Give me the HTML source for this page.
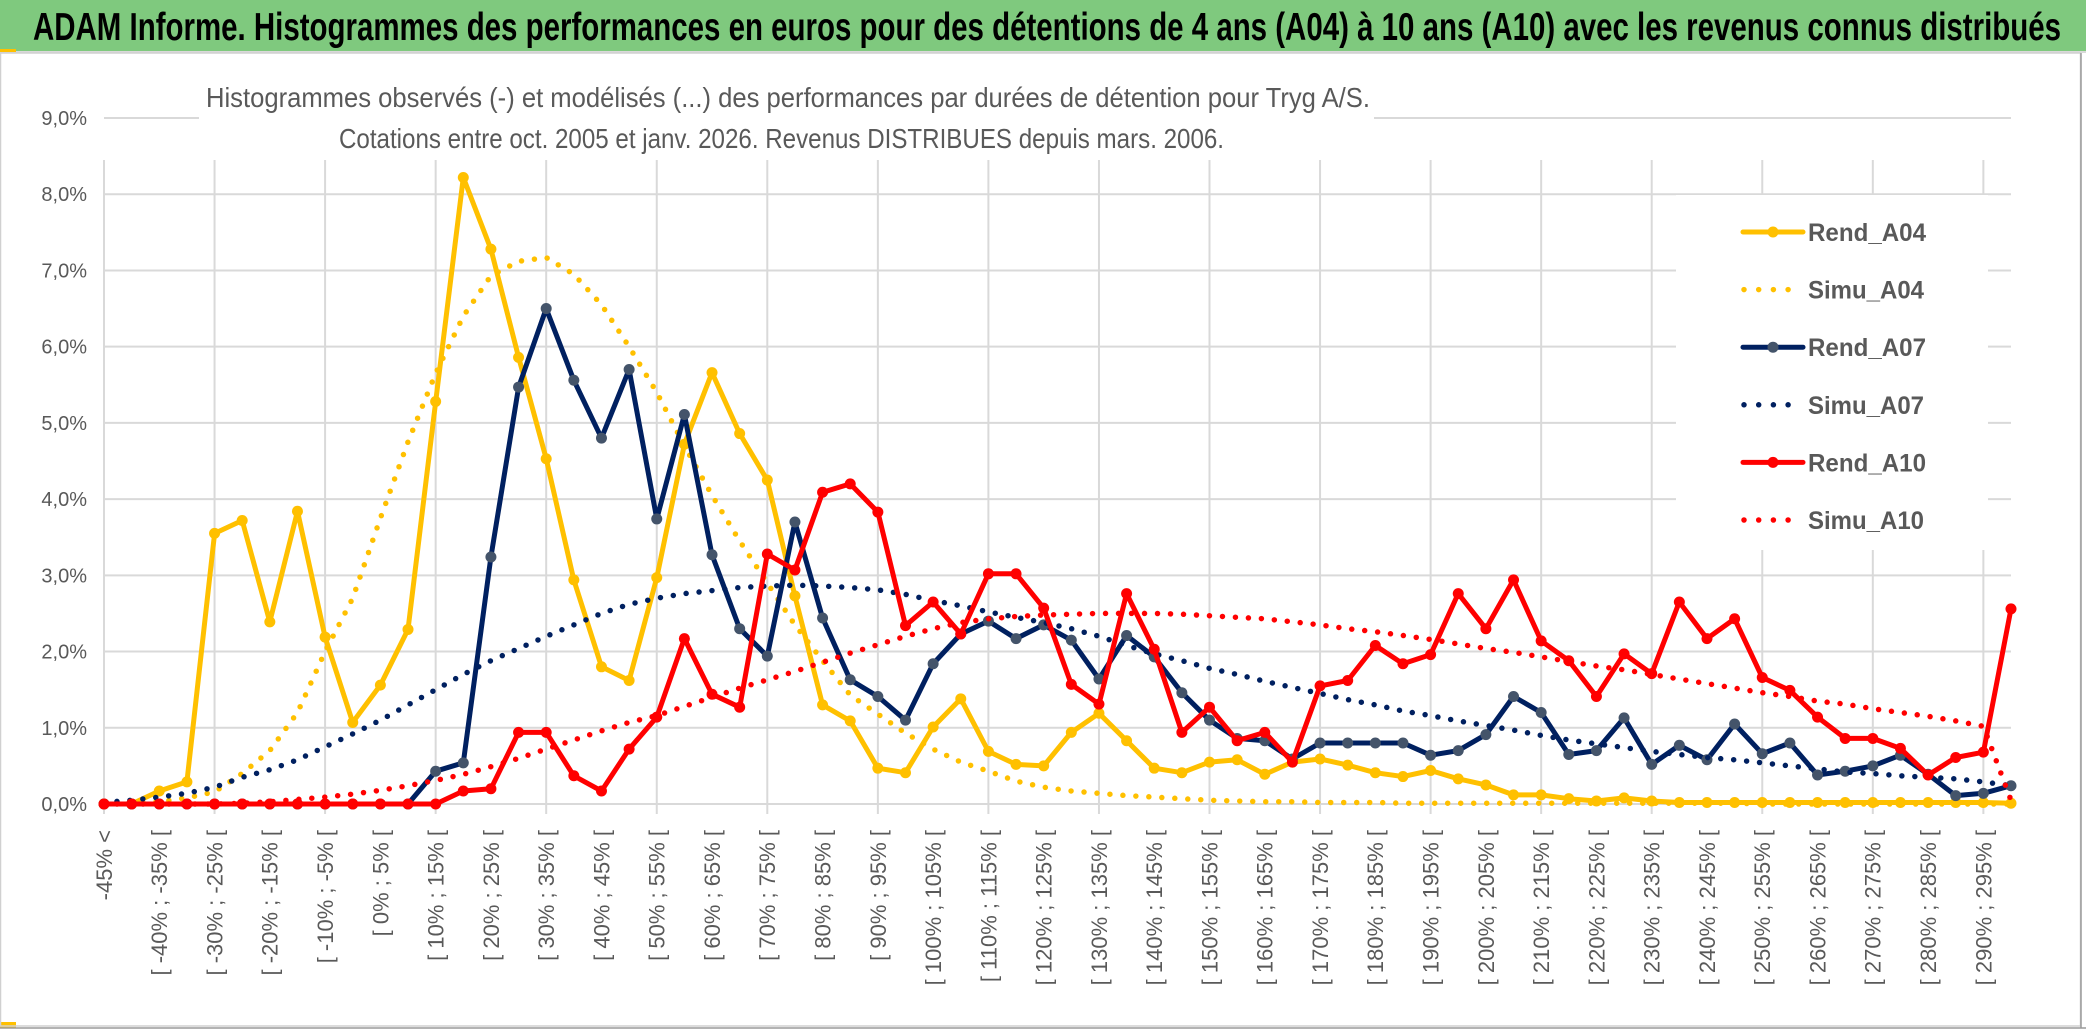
<!DOCTYPE html>
<html><head><meta charset="utf-8">
<style>
html,body{margin:0;padding:0;background:#fff;}
svg{display:block;}
</style></head>
<body>
<svg id="chart" width="2086" height="1031" viewBox="0 0 2086 1031" xmlns="http://www.w3.org/2000/svg">
  <rect x="0" y="0" width="2086" height="1031" fill="#ffffff"/>
  <rect x="0" y="0" width="2086" height="51" fill="#7fc97e"/>
  <line x1="0" y1="52" x2="2086" y2="52" stroke="#d9d9d9" stroke-width="2"/>
  <rect x="0" y="49" width="16" height="3" fill="#ffc000"/>
  <rect x="0" y="1022" width="16" height="6" fill="#ffc000"/>
  <text x="33" y="40" font-family="'Liberation Sans Narrow','Liberation Sans',sans-serif" font-weight="bold" font-size="39" fill="#000" textLength="2028" lengthAdjust="spacingAndGlyphs">ADAM Informe. Histogrammes des performances en euros pour des détentions de 4 ans (A04) à 10 ans (A10) avec les revenus connus distribués</text>
  <rect x="0.5" y="53" width="2080" height="973" fill="none" stroke="#d0d0d0" stroke-width="1.5"/>
  <line x1="0" y1="1028" x2="2086" y2="1028" stroke="#9a9a9a" stroke-width="1.5"/>
  <line x1="2081" y1="53" x2="2081" y2="1028" stroke="#9a9a9a" stroke-width="1.5"/>
  <g id="grid"></g>
  <rect x="199" y="70" width="1175" height="90" fill="#fff"/>
  <rect x="1676" y="195" width="312" height="355" fill="#fff"/>
  <text x="206" y="107" font-family="'Liberation Sans Narrow','Liberation Sans',sans-serif" font-size="28" fill="#595959" textLength="1164" lengthAdjust="spacingAndGlyphs">Histogrammes observés (-) et modélisés (...) des performances par durées de détention pour Tryg A/S.</text>
  <text x="339" y="148" font-family="'Liberation Sans Narrow','Liberation Sans',sans-serif" font-size="28" fill="#595959" textLength="885" lengthAdjust="spacingAndGlyphs">Cotations entre oct. 2005 et janv. 2026. Revenus DISTRIBUES depuis mars. 2006.</text>
  <g id="yaxis"></g>
  <g id="xaxis"></g>
  <g id="series"></g>
  <g id="legend"></g>
</svg>
<script>
const categories = ["-45% <","[ -45% ; -40% [","[ -40% ; -35% [","[ -35% ; -30% [","[ -30% ; -25% [","[ -25% ; -20% [","[ -20% ; -15% [","[ -15% ; -10% [","[ -10% ; -5% [","[ -5% ; 0% [",
"[ 0% ; 5% [","[ 5% ; 10% [","[ 10% ; 15% [","[ 15% ; 20% [","[ 20% ; 25% [","[ 25% ; 30% [","[ 30% ; 35% [","[ 35% ; 40% [","[ 40% ; 45% [","[ 45% ; 50% [",
"[ 50% ; 55% [","[ 55% ; 60% [","[ 60% ; 65% [","[ 65% ; 70% [","[ 70% ; 75% [","[ 75% ; 80% [","[ 80% ; 85% [","[ 85% ; 90% [","[ 90% ; 95% [","[ 95% ; 100% [",
"[ 100% ; 105% [","[ 105% ; 110% [","[ 110% ; 115% [","[ 115% ; 120% [","[ 120% ; 125% [","[ 125% ; 130% [","[ 130% ; 135% [","[ 135% ; 140% [","[ 140% ; 145% [","[ 145% ; 150% [",
"[ 150% ; 155% [","[ 155% ; 160% [","[ 160% ; 165% [","[ 165% ; 170% [","[ 170% ; 175% [","[ 175% ; 180% [","[ 180% ; 185% [","[ 185% ; 190% [","[ 190% ; 195% [","[ 195% ; 200% [",
"[ 200% ; 205% [","[ 205% ; 210% [","[ 210% ; 215% [","[ 215% ; 220% [","[ 220% ; 225% [","[ 225% ; 230% [","[ 230% ; 235% [","[ 235% ; 240% [","[ 240% ; 245% [","[ 245% ; 250% [",
"[ 250% ; 255% [","[ 255% ; 260% [","[ 260% ; 265% [","[ 265% ; 270% [","[ 270% ; 275% [","[ 275% ; 280% [","[ 280% ; 285% [","[ 285% ; 290% [","[ 290% ; 295% [","[ 295% ; 300% ["];
const yTicks = [0,1,2,3,4,5,6,7,8,9];
const yTickLabels = ["0,0%","1,0%","2,0%","3,0%","4,0%","5,0%","6,0%","7,0%","8,0%","9,0%"];
const rendA04 = [0,0,0.17,0.29,3.55,3.72,2.39,3.84,2.19,1.07,
1.56,2.29,5.28,8.22,7.28,5.86,4.53,2.94,1.8,1.62,
2.97,4.72,5.66,4.86,4.25,2.73,1.3,1.09,0.47,0.41,
1.01,1.38,0.69,0.52,0.5,0.94,1.19,0.83,0.47,0.41,
0.55,0.58,0.39,0.55,0.59,0.51,0.41,0.36,0.44,0.33,
0.25,0.12,0.12,0.07,0.04,0.08,0.04,0.02,0.02,0.02,
0.02,0.02,0.02,0.02,0.02,0.02,0.02,0.02,0.02,0.01];
const simuA04 = [0,0.01,0.03,0.08,0.16,0.4,0.7,1.2,2.0,2.7,
3.75,4.75,5.65,6.4,6.93,7.12,7.17,6.95,6.55,6.0,
5.4,4.7,4.05,3.45,2.9,2.35,1.88,1.43,1.18,0.93,
0.72,0.55,0.43,0.3,0.22,0.17,0.14,0.11,0.09,0.07,
0.05,0.04,0.03,0.03,0.02,0.02,0.02,0.01,0.01,0.01,
0.01,0.01,0.01,0.01,0.01,0.01,0.01,0.01,0.01,0.01,
0,0,0,0,0,0,0,0,0,0];
const rendA07 = [0,0,0,0,0,0,0,0,0,0,
0,0,0.43,0.54,3.24,5.47,6.5,5.56,4.8,5.7,
3.74,5.11,3.27,2.3,1.94,3.7,2.44,1.63,1.41,1.1,
1.84,2.23,2.4,2.17,2.35,2.15,1.64,2.21,1.93,1.46,
1.1,0.86,0.83,0.59,0.8,0.8,0.8,0.8,0.64,0.7,
0.91,1.41,1.2,0.65,0.7,1.13,0.52,0.77,0.58,1.05,
0.66,0.8,0.38,0.43,0.5,0.64,0.39,0.11,0.14,0.24];
const simuA07 = [0.02,0.05,0.09,0.14,0.22,0.35,0.45,0.58,0.75,0.92,
1.1,1.3,1.5,1.7,1.88,2.04,2.2,2.35,2.5,2.62,
2.7,2.76,2.8,2.84,2.86,2.87,2.86,2.84,2.81,2.75,
2.67,2.6,2.52,2.45,2.38,2.3,2.2,2.08,1.97,1.88,
1.78,1.7,1.61,1.53,1.45,1.37,1.3,1.22,1.16,1.09,
1.03,0.97,0.9,0.84,0.79,0.74,0.69,0.65,0.61,0.58,
0.54,0.5,0.46,0.42,0.4,0.37,0.35,0.33,0.29,0.24];
const rendA10 = [0,0,0,0,0,0,0,0,0,0,
0,0,0,0.17,0.2,0.94,0.94,0.37,0.17,0.72,
1.14,2.17,1.44,1.27,3.28,3.07,4.09,4.2,3.83,2.34,
2.65,2.23,3.02,3.02,2.57,1.57,1.31,2.76,2.03,0.94,
1.27,0.83,0.94,0.55,1.55,1.62,2.08,1.84,1.96,2.76,
2.3,2.94,2.14,1.88,1.41,1.97,1.71,2.65,2.17,2.43,
1.66,1.49,1.14,0.86,0.86,0.73,0.38,0.61,0.68,2.56];
const simuA10 = [0,0,0,0,0,0.01,0.03,0.06,0.09,0.13,
0.18,0.24,0.31,0.39,0.49,0.6,0.72,0.84,0.96,1.07,
1.16,1.28,1.4,1.52,1.63,1.74,1.86,1.98,2.09,2.2,
2.3,2.38,2.43,2.46,2.48,2.49,2.5,2.5,2.5,2.49,
2.47,2.45,2.43,2.39,2.35,2.3,2.26,2.21,2.16,2.1,
2.04,1.99,1.93,1.87,1.81,1.76,1.7,1.64,1.58,1.52,
1.46,1.41,1.35,1.31,1.25,1.2,1.15,1.09,1.02,0.05];
const seriesNames = ["Rend_A04","Simu_A04","Rend_A07","Simu_A07","Rend_A10","Simu_A10"];

const NS = "http://www.w3.org/2000/svg";
const X0 = 104, X1 = 2011, Y0 = 804, Y9 = 118;
function xScale(i){ return X0 + i * (X1 - X0) / (categories.length - 1); }
function yScale(v){ return Y0 - v * (Y0 - Y9) / 9; }
function mk(tag, attrs, parent){
  const e = document.createElementNS(NS, tag);
  for (const k in attrs) e.setAttribute(k, attrs[k]);
  parent.appendChild(e);
  return e;
}
const grid = document.getElementById('grid');
yTicks.forEach(function(t){
  const l = mk('line', {x1: X0, x2: X1, y1: yScale(t), y2: yScale(t), stroke: '#d9d9d9', 'stroke-width': 2}, grid);
  
  
});
for (let i = 0; i < categories.length; i += 4) {
  const l = mk('line', {x1: xScale(i), x2: xScale(i), y1: Y9 + 42, y2: Y0 + 10, stroke: '#d9d9d9', 'stroke-width': 2}, grid);
  
  
}
const yaxis = document.getElementById('yaxis');
yTicks.forEach(function(t, i){
  const tx = mk('text', {x: 87, y: yScale(t) + 7, 'text-anchor': 'end', 'font-family': "'Liberation Sans Narrow','Liberation Sans',sans-serif", 'font-size': 20, fill: '#595959'}, yaxis);
  tx.textContent = yTickLabels[i];
  
  
});
const xaxis = document.getElementById('xaxis');
for (let i = 0; i < categories.length; i += 2) {
  const x = xScale(i), y = 830;
  const tx = mk('text', {x: x, y: y, transform: 'rotate(-90 ' + x + ' ' + y + ')', 'text-anchor': 'end', dy: '0.36em', 'font-family': "'Liberation Sans',sans-serif", 'font-size': 22, fill: '#595959'}, xaxis);
  tx.textContent = categories[i];
  
  
}
const sg = document.getElementById('series');
function pts(arr){ return arr.map(function(v, i){ return xScale(i).toFixed(1) + ',' + yScale(v).toFixed(1); }).join(' '); }
function drawSolid(arr, color, markerColor, name){
  const g = mk('g', {}, sg);
  
  
  const pl = mk('polyline', {points: pts(arr), fill: 'none', stroke: color, 'stroke-width': 5, 'stroke-linejoin': 'round'}, g);
  
  
  arr.forEach(function(v, i){
    const c = mk('circle', {cx: xScale(i), cy: yScale(v), r: 5.5, fill: markerColor}, g);
    
    
  });
}
function drawDotted(arr, color, name){
  const pl = mk('polyline', {points: pts(arr), fill: 'none', stroke: color, 'stroke-width': 5.5, 'stroke-linecap': 'round', 'stroke-dasharray': '0 13'}, sg);
  
  
}
drawSolid(rendA04, '#ffc000', '#ffc000', 'rend-a04');
drawDotted(simuA04, '#ffc000', 'simu-a04');
drawSolid(rendA07, '#002060', '#44546a', 'rend-a07');
drawDotted(simuA07, '#002060', 'simu-a07');
drawSolid(rendA10, '#ff0000', '#ff0000', 'rend-a10');
drawDotted(simuA10, '#ff0000', 'simu-a10');

const legend = document.getElementById('legend');
const legendColors = ['#ffc000','#ffc000','#002060','#002060','#ff0000','#ff0000'];
const legendMarkers = ['#ffc000',null,'#44546a',null,'#ff0000',null];
seriesNames.forEach(function(n, i){
  const y = 232 + i * 57.6;
  const g = mk('g', {}, legend);
  
  
  if (legendMarkers[i]) {
    mk('line', {x1: 1743, x2: 1803, y1: y, y2: y, stroke: legendColors[i], 'stroke-width': 5, 'stroke-linecap': 'round'}, g);
    mk('circle', {cx: 1773, cy: y, r: 5.5, fill: legendMarkers[i]}, g);
  } else {
    mk('line', {x1: 1744, x2: 1802, y1: y, y2: y, stroke: legendColors[i], 'stroke-width': 5.5, 'stroke-linecap': 'round', 'stroke-dasharray': '0 14.7'}, g);
  }
  const t = mk('text', {x: 1808, y: y + 9, 'font-family': "'Liberation Sans',sans-serif", 'font-weight': 'bold', 'font-size': 25, fill: '#595959', textLength: i % 2 === 0 ? 118 : 116, lengthAdjust: 'spacingAndGlyphs'}, g);
  t.textContent = n;
});
</script>
</body></html>
